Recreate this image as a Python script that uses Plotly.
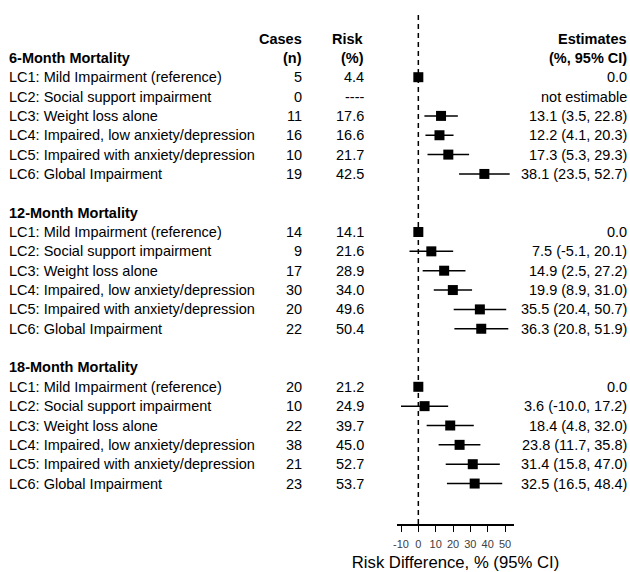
import plotly.graph_objects as go

labels = ["LC1: Mild Impairment (reference)", "LC2: Social support impairment",
          "LC3: Weight loss alone", "LC4: Impaired, low anxiety/depression",
          "LC5: Impaired with anxiety/depression", "LC6: Global Impairment"]
sections = ["6-Month Mortality", "12-Month Mortality", "18-Month Mortality"]

cases_6 = [5, 0, 11, 16, 10, 19]
risk_6 = [4.4, None, 17.6, 16.6, 21.7, 42.5]
est_6 = [0.0, None, 13.1, 12.2, 17.3, 38.1]
lo_6 = [None, None, 3.5, 4.1, 5.3, 23.5]
hi_6 = [None, None, 22.8, 20.3, 29.3, 52.7]

cases_12 = [14, 9, 17, 30, 20, 22]
risk_12 = [14.1, 21.6, 28.9, 34.0, 49.6, 50.4]
est_12 = [0.0, 7.5, 14.9, 19.9, 35.5, 36.3]
lo_12 = [None, -5.1, 2.5, 8.9, 20.4, 20.8]
hi_12 = [None, 20.1, 27.2, 31.0, 50.7, 51.9]

cases_18 = [20, 10, 22, 38, 21, 23]
risk_18 = [21.2, 24.9, 39.7, 45.0, 52.7, 53.7]
est_18 = [0.0, 3.6, 18.4, 23.8, 31.4, 32.5]
lo_18 = [None, -10.0, 4.8, 11.7, 15.8, 16.5]
hi_18 = [None, 17.2, 32.0, 35.8, 47.0, 48.4]

tick_vals = [-10, 0, 10, 20, 30, 40, 50]

FONT = "Liberation Sans, Arial, sans-serif"
FS = 14.5
W, H = 630, 572
ROW0_PX, ROW_PX = 38.5, 19.35
AXIS_PX = 524

groups = [(cases_6, risk_6, est_6, lo_6, hi_6),
          (cases_12, risk_12, est_12, lo_12, hi_12),
          (cases_18, risk_18, est_18, lo_18, hi_18)]

x_lab, x_cases, x_risk, x_est = 7 / W, 304 / W, 366 / W, 629 / W

ann = []
def text(x, y, s, anchor="right", bold=False, size=FS, color="black"):
    ann.append(dict(x=x, y=y, xref="paper", yref="y", text=f"<b>{s}</b>" if bold else s,
                    showarrow=False, xanchor=anchor, yanchor="middle",
                    font=dict(family=FONT, size=size, color=color)))

# column headers
text(x_cases, 0, "Cases", bold=True)
text(x_cases, 1, "(n)", bold=True)
text(x_risk, 0, "Risk", bold=True)
text(x_risk, 1, "(%)", bold=True)
text(x_est, 0, "Estimates", bold=True)
text(x_est, 1, "(%, 95% CI)", bold=True)

xs, ys, ep, em = [], [], [], []
for g, (sec, (cases, risk, est, lo, hi)) in enumerate(zip(sections, groups)):
    hrow = 1 + g * 8
    text(x_lab, hrow, sec, anchor="left", bold=True)
    for i in range(6):
        r = hrow + 1 + i
        text(x_lab, r, labels[i], anchor="left")
        text(x_cases, r, str(cases[i]))
        text(x_risk, r, "----" if risk[i] is None else f"{risk[i]:.1f}")
        if est[i] is None:
            text(x_est, r, "not estimable")
            continue
        if lo[i] is None:
            text(x_est, r, f"{est[i]:.1f}")
            ep.append(0); em.append(0)
        else:
            text(x_est, r, f"{est[i]:.1f} ({lo[i]:.1f}, {hi[i]:.1f})")
            ep.append(hi[i] - est[i]); em.append(est[i] - lo[i])
        xs.append(est[i]); ys.append(r)

fig = go.Figure(go.Scatter(
    x=xs, y=ys, mode="markers",
    marker=dict(symbol="square", size=10, color="black"),
    error_x=dict(type="data", array=ep, arrayminus=em, symmetric=False,
                 width=0, thickness=1.5, color="black"),
    cliponaxis=False, showlegend=False, hoverinfo="skip"))

# axis geometry (pixels -> data)
px_per_unit = (505 - 401) / 60
x0 = -10 - (401 - 397) / px_per_unit
x1 = 50 + (514 - 505) / px_per_unit
y_top = -ROW0_PX / ROW_PX
y_bot = (AXIS_PX - ROW0_PX) / ROW_PX

fig.add_shape(type="line", xref="x", yref="paper", x0=0, x1=0,
              y0=0, y1=1 - 13 / AXIS_PX,
              line=dict(color="black", width=1.5, dash="5px,4px"))

fig.update_layout(
    width=W, height=H, margin=dict(l=0, r=0, t=0, b=H - AXIS_PX),
    paper_bgcolor="white", plot_bgcolor="white",
    annotations=ann,
    xaxis=dict(domain=[397 / W, 514 / W], range=[x0, x1], showgrid=False, zeroline=False,
               automargin=False,
               showline=True, linecolor="black", linewidth=1.5,
               ticks="outside", ticklen=6, tickwidth=1.2, tickcolor="black",
               ticklabelstandoff=3,
               tickvals=tick_vals, ticktext=[str(v) for v in tick_vals],
               tickfont=dict(family=FONT, size=11, color="#404040"),
               title=dict(text="Risk Difference, % (95% CI)", standoff=22,
                          font=dict(family=FONT, size=16.7, color="black"))),
    yaxis=dict(range=[y_bot, y_top], visible=False, showgrid=False, zeroline=False,
               automargin=False),
)

fig.write_html("out.html", config={"displayModeBar": False},
               post_script="document.body.style.margin='0';document.body.style.overflow='hidden';")
